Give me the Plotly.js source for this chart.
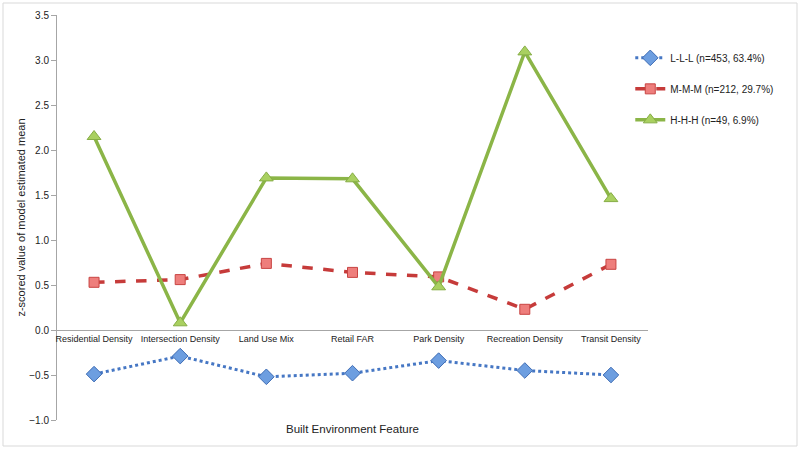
<!DOCTYPE html>
<html>
<head>
<meta charset="utf-8">
<script src="https://cdn.plot.ly/plotly-3.0.1.min.js"></script>
<style>
  html, body { margin: 0; padding: 0; background: #fff; }
  #chart { width: 800px; height: 450px; }
</style>
</head>
<body>
<div id="chart"></div>
<script>
const features = ["Residential Density", "Intersection Density", "Land Use Mix", "Retail FAR",
    "Park Density", "Recreation Density", "Transit Density"];

const lllValues = [-0.49, -0.29, -0.52, -0.48, -0.34, -0.45, -0.50];
const mmmValues = [0.53, 0.56, 0.74, 0.64, 0.59, 0.23, 0.73];
const hhhValues = [2.15, 0.08, 1.69, 1.68, 0.48, 3.09, 1.46];

const seriesNames = ["L-L-L (n=453, 63.4%)", "M-M-M (n=212, 29.7%)", "H-H-H (n=49, 6.9%)"];

const chartDiv = document.getElementById("chart");

const traces = [
    {
        x: features, y: lllValues, name: seriesNames[0], legendgroup: "a",
        type: "scatter", mode: "lines+markers",
        line: {color: "#4677c4", width: 3, dash: "dot"},
        marker: {symbol: "diamond", size: 12, color: "#6d9ee0", line: {color: "#3f6db5", width: 1}}
    },
    {
        x: features, y: mmmValues, name: seriesNames[1], legendgroup: "b",
        type: "scatter", mode: "lines+markers",
        line: {color: "#c63b3a", width: 3.5, dash: "dash"},
        marker: {symbol: "square", size: 10, color: "#ee7e7c", line: {color: "#c84442", width: 1}}
    },
    {
        x: features, y: hhhValues, name: seriesNames[2], legendgroup: "c",
        type: "scatter", mode: "lines+markers",
        line: {color: "#8bb547", width: 3.5},
        marker: {symbol: "triangle-up", size: 12, color: "#a9d060", line: {color: "#86ad45", width: 1}}
    }
];

const layout = {
    width: 800,
    height: 450,
    margin: {t: 15, r: 152, b: 30, l: 57},
    paper_bgcolor: "#fff",
    plot_bgcolor: "#fff",
    font: {family: "Liberation Sans, Arial, sans-serif", size: 10, color: "#222"},
    xaxis: {
        type: "category",
        anchor: "free",
        position: 1 / 4.5,
        automargin: false,
        showline: true,
        linecolor: "#a6a6a6",
        linewidth: 1,
        showgrid: false,
        zeroline: false,
        ticks: "",
        tickangle: 0,
        tickfont: {size: 9, color: "#222"}
    },
    yaxis: {
        range: [-1, 3.5],
        dtick: 0.5,
        tickformat: ".1f",
        automargin: false,
        showline: true,
        linecolor: "#a6a6a6",
        linewidth: 1,
        ticks: "outside",
        ticklen: 5,
        tickcolor: "#a6a6a6",
        showgrid: false,
        zeroline: false,
        tickfont: {size: 10, color: "#222"},
        title: {text: "z-scored value of model estimated mean", font: {size: 11, color: "#222"}}
    },
    legend: {
        x: 0.97, y: 0.93, xanchor: "left", yanchor: "top",
        traceorder: "grouped",
        tracegroupgap: 12,
        font: {size: 10, color: "#222"},
        bgcolor: "rgba(0,0,0,0)"
    },
    annotations: [
        {
            text: "Built Environment Feature",
            xref: "paper", yref: "paper",
            x: 0.5, y: -0.0,
            xanchor: "center", yanchor: "top",
            yshift: -1,
            showarrow: false,
            font: {size: 11.5, color: "#222"}
        }
    ],
    shapes: [
        {
            type: "rect", xref: "paper", yref: "paper",
            x0: (3 - 57) / 591, x1: (797 - 57) / 591,
            y0: (420 - 446) / 405, y1: (420 - 3) / 405,
            line: {color: "#d9d9d9", width: 1}
        }
    ],
    showlegend: true
};

Plotly.newPlot(chartDiv, traces, layout, {staticPlot: true});
</script>
</body>
</html>
